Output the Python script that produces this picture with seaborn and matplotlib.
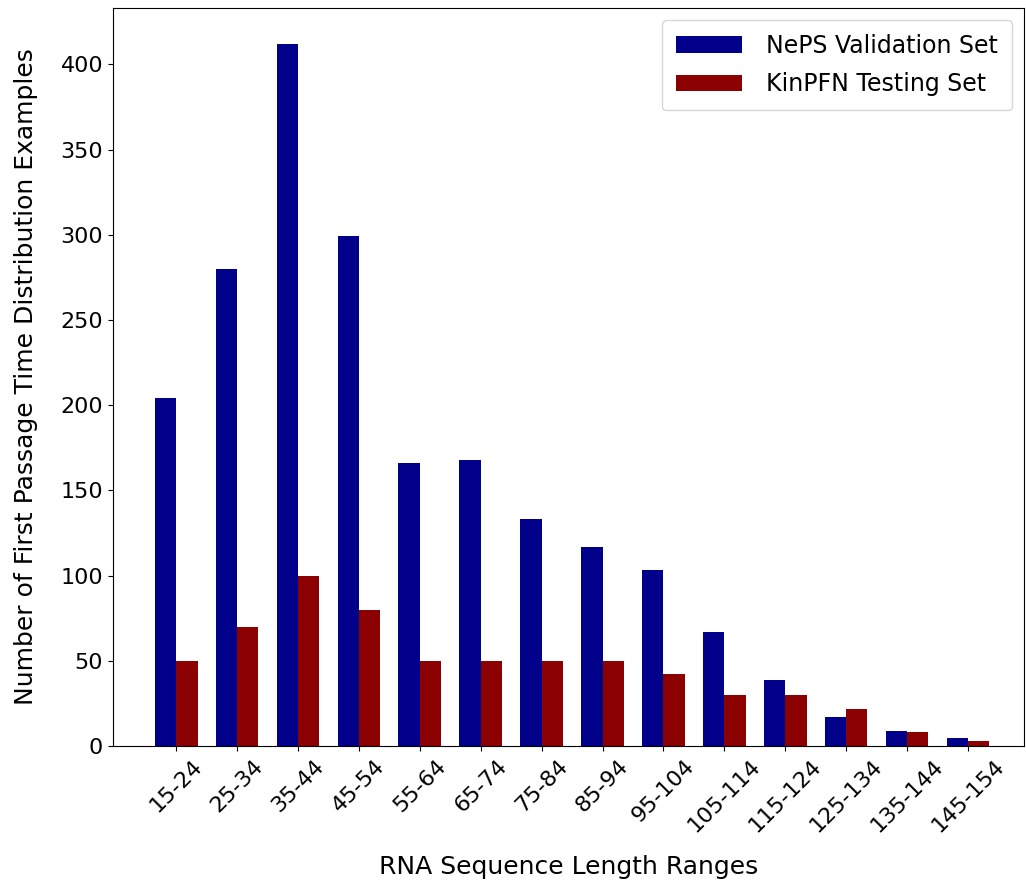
import matplotlib
matplotlib.use("Agg")
import matplotlib.pyplot as plt
import seaborn as sns
import pandas as pd

categories = ["15-24","25-34","35-44","45-54","55-64","65-74","75-84","85-94",
              "95-104","105-114","115-124","125-134","135-144","145-154"]
neps = [204, 280, 412, 299, 166, 168, 133, 117, 103, 67, 39, 17, 9, 5]
kinpfn = [50, 70, 100, 80, 50, 50, 50, 50, 42, 30, 30, 22, 8, 3]

df = pd.DataFrame({
    "range": categories * 2,
    "count": neps + kinpfn,
    "set": ["NePS Validation Set"] * len(categories) + ["KinPFN Testing Set"] * len(categories),
})

sns.set_style("ticks")
plt.rcParams["font.family"] = ["DejaVu Sans"]
plt.rcParams["text.color"] = "black"
plt.rcParams["axes.labelcolor"] = "black"
plt.rcParams["xtick.color"] = "black"
plt.rcParams["ytick.color"] = "black"
fig = plt.figure(figsize=(10.26, 8.94), dpi=100)
ax = fig.add_axes([0.110, 0.1655, 0.888, 0.8255])
sns.barplot(data=df, x="range", y="count", hue="set", order=categories,
            palette={"NePS Validation Set": "#00008b", "KinPFN Testing Set": "#8b0000"},
            width=0.7, saturation=1, linewidth=0, ax=ax)
ax.set_xlim(-1.04, 13.92)
ax.set_ylim(0, 433)
ax.set_xlabel("RNA Sequence Length Ranges", fontsize=18, labelpad=14)
ax.set_ylabel("Number of First Passage Time Distribution Examples", fontsize=18, labelpad=16)
ax.tick_params(axis="both", labelsize=16)
plt.setp(ax.get_xticklabels(), rotation=45)
ax.legend(loc="upper right", fontsize=17, frameon=True, fancybox=True, edgecolor="#cccccc",
          handlelength=2.8, borderpad=0.6, labelspacing=0.6, handletextpad=1.0)
for s in ax.spines.values():
    s.set_color("black")
fig.savefig("out.png", dpi=100)
